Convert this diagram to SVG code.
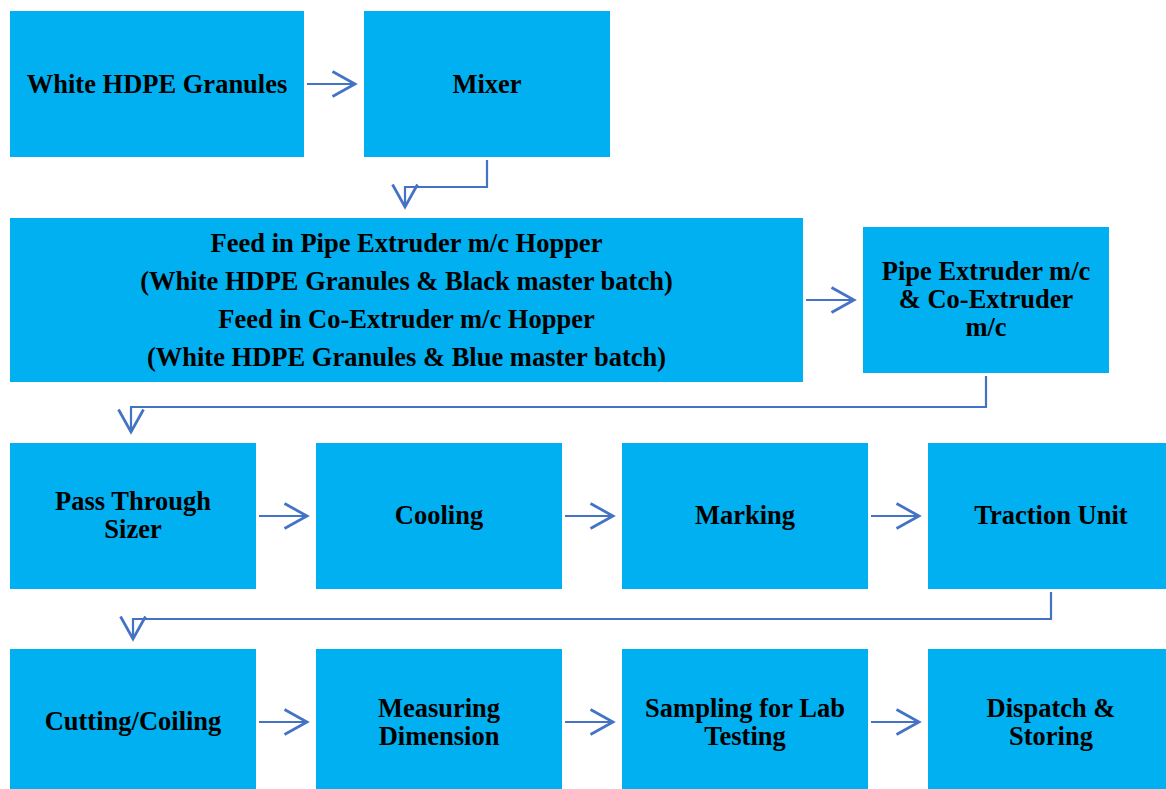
<svg xmlns="http://www.w3.org/2000/svg" width="1166" height="789" viewBox="0 0 1166 789">
<defs>
<marker id="chev" markerUnits="userSpaceOnUse" markerWidth="30" markerHeight="30" viewBox="-20 -12 24 24" refX="0" refY="0" orient="auto">
<path d="M-18,-10 L0,0 L-18,10" fill="none" stroke="#4472C4" stroke-width="2.2"/>
</marker>
</defs>
<style>
.box{fill:#00B0F0}
.t{font-family:"Liberation Serif","Times New Roman",serif;font-weight:bold;font-size:26.5px;fill:#000;text-anchor:middle}
.c{fill:none;stroke:#4472C4;stroke-width:2.2;marker-end:url(#chev)}
</style>
<rect width="1166" height="789" fill="#fff"/>
<g id="n1"><rect class="box" x="10" y="11" width="294" height="146"/><text class="t" x="157" y="93">White HDPE Granules</text></g>
<g id="n2"><rect class="box" x="364" y="11" width="246" height="146"/><text class="t" x="487" y="93">Mixer</text></g>
<g id="n3"><rect class="box" x="10" y="218" width="793" height="164"/>
<text class="t" x="406.5" y="252">Feed in Pipe Extruder m/c Hopper</text>
<text class="t" x="406.5" y="290">(White HDPE Granules &amp; Black master batch)</text>
<text class="t" x="406.5" y="328">Feed in Co-Extruder m/c Hopper</text>
<text class="t" x="406.5" y="366">(White HDPE Granules &amp; Blue master batch)</text></g>
<g id="n4"><rect class="box" x="863" y="227" width="246" height="146"/>
<text class="t" x="986" y="280">Pipe Extruder m/c</text>
<text class="t" x="986" y="308">&amp; Co-Extruder</text>
<text class="t" x="986" y="336">m/c</text></g>
<g id="n5"><rect class="box" x="10" y="443" width="246" height="146"/><text class="t" x="133" y="510">Pass Through</text><text class="t" x="133" y="538">Sizer</text></g>
<g id="n6"><rect class="box" x="316" y="443" width="246" height="146"/><text class="t" x="439" y="524">Cooling</text></g>
<g id="n7"><rect class="box" x="622" y="443" width="246" height="146"/><text class="t" x="745" y="524">Marking</text></g>
<g id="n8"><rect class="box" x="928" y="443" width="246" height="146"/><text class="t" x="1051" y="524">Traction Unit</text></g>
<g id="n9"><rect class="box" x="10" y="649" width="246" height="146"/><text class="t" x="133" y="730">Cutting/Coiling</text></g>
<g id="n10"><rect class="box" x="316" y="649" width="246" height="146"/><text class="t" x="439" y="717">Measuring</text><text class="t" x="439" y="745">Dimension</text></g>
<g id="n11"><rect class="box" x="622" y="649" width="246" height="146"/><text class="t" x="745" y="717">Sampling for Lab</text><text class="t" x="745" y="745">Testing</text></g>
<g id="n12"><rect class="box" x="928" y="649" width="246" height="146"/><text class="t" x="1051" y="717">Dispatch &amp;</text><text class="t" x="1051" y="745">Storing</text></g>
<g id="connectors">
<path class="c" d="M307,84 H355"/>
<path class="c" d="M487,160 V187 H405 V207"/>
<path class="c" d="M806,300 H854"/>
<path class="c" d="M986,376 V407 H131 V432"/>
<path class="c" d="M259,516 H307"/>
<path class="c" d="M565,516 H613"/>
<path class="c" d="M871,516 H919"/>
<path class="c" d="M1051,592 V619 H133 V639"/>
<path class="c" d="M259,722 H307"/>
<path class="c" d="M565,722 H613"/>
<path class="c" d="M871,722 H919"/>
</g>
</svg>
